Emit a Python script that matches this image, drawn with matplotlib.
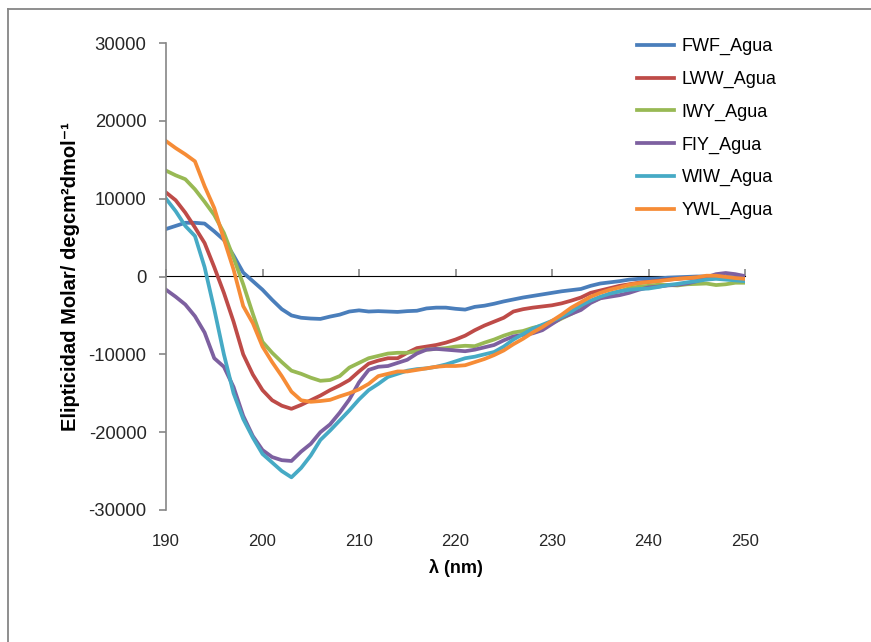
import matplotlib
matplotlib.use("Agg")
import matplotlib.pyplot as plt
from matplotlib.lines import Line2D

wavelength = list(range(190, 251))

FWF_Agua = [6100, 6500, 6900, 6900, 6800, 5800, 4700, 2700, 500, -600,
            -1700, -3000, -4200, -5000, -5300, -5400, -5450, -5150, -4900, -4500,
            -4350, -4500, -4450, -4500, -4550, -4450, -4400, -4100, -4000, -4000,
            -4150, -4250, -3900, -3750, -3500, -3200, -2950, -2700, -2500, -2300,
            -2100, -1900, -1750, -1600, -1200, -900, -750, -600, -400, -300,
            -300, -250, -150, -100, -50, 0, 0, 0, -50, -100, -150]

LWW_Agua = [10800, 9800, 8200, 6300, 4300, 1200, -2100, -5800, -10000, -12600,
            -14600, -15900, -16600, -17000, -16500, -15900, -15300, -14600, -14000, -13300,
            -12200, -11200, -10800, -10500, -10500, -9800, -9200, -9000, -8800, -8500,
            -8100, -7600, -6900, -6300, -5800, -5300, -4500, -4200, -4000, -3850,
            -3700, -3450, -3100, -2700, -2100, -1800, -1500, -1200, -1000, -800,
            -700, -550, -400, -300, -200, -150, -100, -100, -150, -250, -300]

IWY_Agua = [13600, 13000, 12500, 11200, 9600, 7900, 5600, 2400, -1000, -4800,
            -8400, -9800, -11000, -12100, -12500, -13000, -13400, -13300, -12800, -11700,
            -11100, -10500, -10200, -9900, -9800, -9800, -9600, -9400, -9300, -9200,
            -9000, -8900, -8950, -8500, -8100, -7600, -7200, -7000, -6600, -6300,
            -6000, -5400, -4800, -4100, -3300, -2800, -2200, -1900, -1500, -1300,
            -1200, -1050, -1100, -1150, -1000, -950, -900, -1100, -1000, -800, -800]

FIY_Agua = [-1700, -2600, -3600, -5100, -7200, -10500, -11600, -14200, -17900, -20500,
            -22300, -23200, -23600, -23700, -22500, -21500, -20000, -19000, -17500, -15800,
            -13600, -12000, -11600, -11500, -11100, -10700, -9900, -9400, -9300, -9400,
            -9500, -9600, -9400, -9100, -8800, -8200, -7700, -7500, -7300, -6900,
            -6100, -5300, -4800, -4300, -3400, -2800, -2600, -2400, -2100, -1700,
            -1400, -1300, -1150, -1050, -900, -600, -100, 300, 450, 300, 50]

WIW_Agua = [10000, 8400, 6500, 5200, 1200, -4200, -10000, -15000, -18300, -20700,
            -22800, -23900, -25000, -25800, -24600, -23000, -21000, -19800, -18500, -17200,
            -15800, -14600, -13800, -12900, -12500, -12100, -11900, -11800, -11600, -11300,
            -10900, -10500, -10300, -10000, -9700, -9000, -8100, -7400, -6700, -6200,
            -5700, -5200, -4500, -3700, -3100, -2600, -2200, -1900, -1700, -1600,
            -1550, -1350, -1100, -950, -750, -600, -400, -300, -400, -500, -600]

YWL_Agua = [17400, 16500, 15700, 14800, 11600, 8800, 4800, 900, -3800, -6000,
            -9000, -11000, -12800, -14800, -15900, -16100, -16000, -15850, -15400, -15000,
            -14500, -13800, -12800, -12500, -12200, -12200, -12000, -11800, -11600, -11500,
            -11500, -11400, -11000, -10600, -10100, -9500, -8700, -8000, -7200, -6500,
            -5700, -4900, -4000, -3300, -2600, -2100, -1700, -1400, -1050, -850,
            -700, -600, -450, -300, -200, -100, 100, 100, -50, -200, -300]

series_names = ["FWF_Agua", "LWW_Agua", "IWY_Agua", "FIY_Agua", "WIW_Agua", "YWL_Agua"]
series_values = [FWF_Agua, LWW_Agua, IWY_Agua, FIY_Agua, WIW_Agua, YWL_Agua]
colors = ["#4A7EBB", "#BE4B48", "#98B954", "#7D60A0", "#46AAC5", "#F68C36"]

x_ticks = [190, 200, 210, 220, 230, 240, 250]
y_ticks = [-30000, -20000, -10000, 0, 10000, 20000, 30000]

W, H = 871, 642
fig = plt.figure(figsize=(W / 100, H / 100), dpi=100)
ax = fig.add_axes([166 / W, 1 - 510 / H, (745 - 166) / W, (510 - 43) / H])

for name, vals, c in zip(series_names, series_values, colors):
    ax.plot(wavelength, vals, color=c, lw=2.7, label=name, solid_joinstyle="round")

gray = "#868686"
ax.set_xlim(190, 250)
ax.set_ylim(-30000, 30000)
ax.set_yticks(y_ticks)
ax.set_xticks(x_ticks)
ax.set_xticklabels([str(v) for v in x_ticks],
                   fontfamily=["Liberation Sans Narrow", "Liberation Sans", "DejaVu Sans"],
                   fontsize=12)
ax.set_yticklabels([str(v) for v in y_ticks],
                   fontfamily=["Liberation Sans", "DejaVu Sans"], fontsize=13.3)
for s in ["top", "right", "bottom"]:
    ax.spines[s].set_visible(False)
ax.spines["left"].set_color(gray)
ax.spines["left"].set_linewidth(1.2)
ax.tick_params(axis="y", direction="out", length=5, color=gray, width=1.2,
               pad=9, labelcolor="#262626")
ax.tick_params(axis="x", length=0, pad=17, labelcolor="#262626")

sec = ax.secondary_xaxis(0.5)
sec.set_xticks(x_ticks, labels=[])
sec.tick_params(axis="x", direction="out", length=5, color=gray, width=1.2)
sec.spines["bottom"].set_color(gray)
sec.spines["bottom"].set_linewidth(1.2)

ax.set_xlabel("λ (nm)", fontweight="bold", fontsize=13,
              fontfamily=["Liberation Sans Narrow", "Liberation Sans", "DejaVu Sans"])
ax.xaxis.set_label_coords(0.5, -0.105)
ax.set_ylabel("Elipticidad Molar/ degcm²dmol⁻¹", fontweight="bold", fontsize=14.5,
              fontfamily=["Liberation Sans", "DejaVu Sans"])
ax.yaxis.set_label_coords(-0.148, 0.5)

leg = ax.legend(loc="upper left", bbox_to_anchor=(621 / W, 1 - 22 / H),
                bbox_transform=fig.transFigure, frameon=False,
                prop={"family": ["Liberation Sans", "DejaVu Sans"], "size": 13},
                handlelength=2.05, handletextpad=0.4, labelspacing=0.86)

fig.add_artist(Line2D([8 / W, 8 / W], [0, 1 - 9 / H], transform=fig.transFigure,
                      color=gray, lw=1.3))
fig.add_artist(Line2D([8 / W, 1], [1 - 9 / H, 1 - 9 / H], transform=fig.transFigure,
                      color=gray, lw=1.3))

fig.savefig("out.png", dpi=100)
